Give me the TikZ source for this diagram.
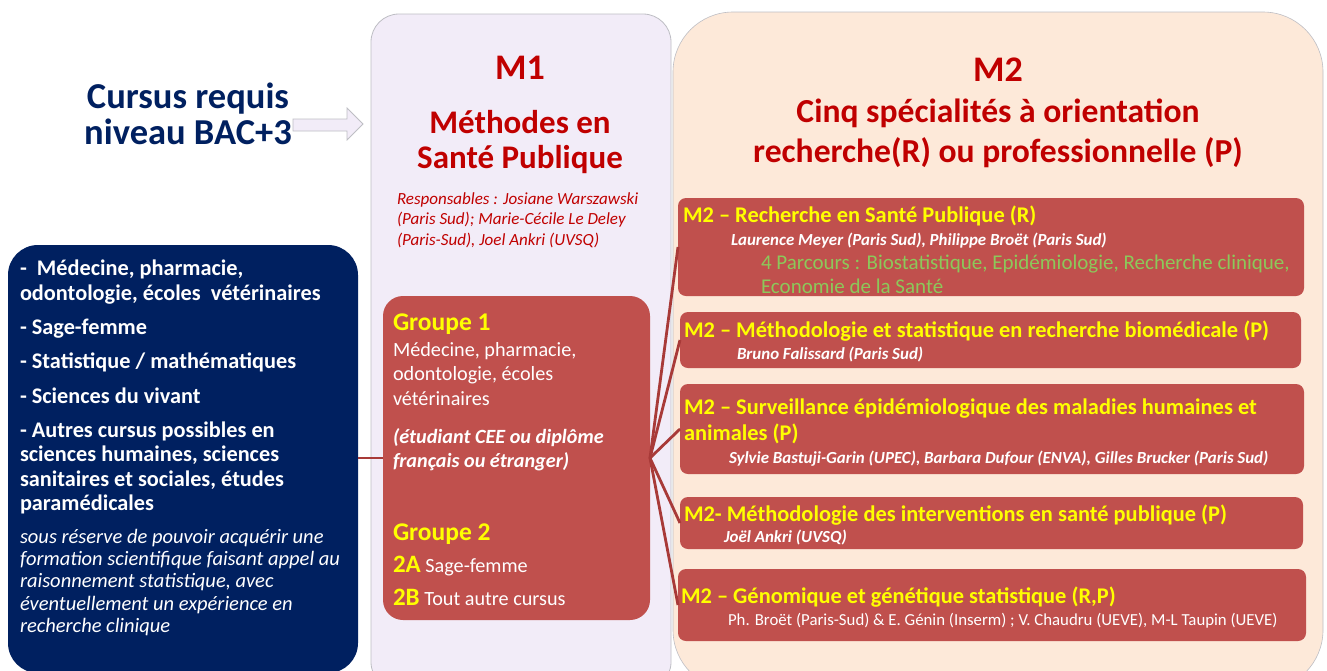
\documentclass[tikz,border=0pt]{standalone}
\usepackage{fontspec}
\setmainfont{Carlito}
\definecolor{navy}{RGB}{0,32,96}
\definecolor{boxred}{RGB}{192,80,77}
\definecolor{darkred}{RGB}{192,0,0}
\definecolor{lav}{RGB}{242,236,248}
\definecolor{peach}{RGB}{253,233,217}
\definecolor{conn}{RGB}{168,58,56}
\definecolor{grn}{RGB}{140,200,90}
\definecolor{yel}{RGB}{255,255,0}
\definecolor{edgegray}{RGB}{190,190,196}
\newcommand\myfs[2]{\fontsize{#1}{#2}\selectfont}
\tikzset{
  panel/.style={rectangle, inner sep=0pt, outer sep=0pt},
  redbox/.style={panel, fill=boxred, rounded corners=8pt},
  txt/.style={anchor=base west, inner sep=0pt, outer sep=0pt},
  ctr/.style={anchor=base, inner sep=0pt, outer sep=0pt},
  bignavy/.style={ctr, font=\myfs{36.5}{37}\bfseries, text=navy},
  bigred/.style={ctr, font=\myfs{33}{33}\bfseries, text=darkred},
  bigredb/.style={ctr, font=\myfs{33.6}{34}\bfseries, text=darkred},
  resp/.style={txt, font=\myfs{17}{20}\itshape, text=darkred},
  lbold/.style={txt, font=\myfs{22.3}{25}\bfseries, text=white},
  lital/.style={txt, font=\myfs{20.5}{22}\itshape, text=white},
  gtitle/.style={txt, font=\myfs{25.5}{26}\bfseries, text=yel},
  gtext/.style={txt, font=\myfs{20.2}{24}, text=white},
  gital/.style={txt, font=\myfs{20.2}{24}\bfseries\itshape, text=white},
  tl/.style={txt, font=\myfs{22.4}{24}\bfseries, text=yel},
  nm/.style={txt, font=\myfs{16.9}{18}\bfseries\itshape, text=white},
  nmr/.style={txt, font=\myfs{16.8}{18}, text=white},
  gr/.style={txt, font=\myfs{21}{22}, text=grn},
  conn/.style={draw=conn, line width=2.8pt},
}
\begin{document}
\begin{tikzpicture}[x=1pt,y=-1pt]
\useasboundingbox (0,0) rectangle (1327,670);
\clip (0,0) rectangle (1327,670);
\fill[white] (0,0) rectangle (1327,670);

% panels
\node (m1) [panel, fill=lav, draw=edgegray, line width=0.8pt, rounded corners=28pt,
  minimum width=300pt, minimum height=676pt] at (521,352) {};
\node (m2) [panel, fill=peach, draw=edgegray, line width=0.6pt, rounded corners=60pt,
  minimum width=650pt, minimum height=678pt] at (998,351) {};
\node (nav) [panel, fill=navy, rounded corners=30pt,
  minimum width=350pt, minimum height=428pt] at (183,459) {};
\node (grp) [panel, fill=boxred, rounded corners=20pt,
  minimum width=267pt, minimum height=324pt] at (516.5,458) {};

\node (b1) [redbox, minimum width=626pt, minimum height=98pt] at (991,247) {};
\node (b2) [redbox, minimum width=621pt, minimum height=56pt] at (990.5,340) {};
\node (b3) [redbox, minimum width=624pt, minimum height=90pt] at (992,429) {};
\node (b4) [redbox, minimum width=623pt, minimum height=52pt] at (991.5,523) {};
\node (b5) [redbox, minimum width=628pt, minimum height=72pt] at (992,605) {};

% arrow
\draw[fill=lav, draw=edgegray, line width=0.8pt]
  (293,119) -- (347,119) -- (347,108) -- (363,124) -- (347,140) -- (347,131) -- (293,131) -- cycle;

% connectors
\draw[conn] (nav.east |- grp.west) -- (grp.west);
\foreach \b in {b1,b2,b3,b4,b5} \draw[conn] (grp.east) -- (\b.west);

% left header
\node (cur1) [bignavy] at (188,108) {Cursus requis};
\node (cur2) [bignavy] at (188,144) {niveau BAC+3};

% M1 header
\node (m1t) [ctr, font=\myfs{36}{36}\bfseries, text=darkred] at (520,79) {M1};
\node (m1b) [bigred] at (520,133) {Méthodes en};
\node (m1c) [bigred] at (520,168) {Santé Publique};
\node (r1) [resp] at (397,204) {Responsables : Josiane Warszawski};
\node (r2) [resp] at (397,224.5) {(Paris Sud); Marie-Cécile Le Deley};
\node (r3) [resp] at (397,245) {(Paris-Sud), Joel Ankri (UVSQ)};

% M2 header
\node (m2t) [ctr, font=\myfs{36}{36}\bfseries, text=darkred] at (998,81) {M2};
\node (m2b) [bigredb] at (998,122) {Cinq spécialités à orientation};
\node (m2c) [bigredb] at (998,162) {recherche(R) ou professionnelle (P)};

% left box text
\node (la1) [lbold] at (20,275) {-~~Médecine, pharmacie,};
\node (la2) [lbold] at (20,300) {odontologie, écoles~~vétérinaires};
\node (la3) [lbold] at (20,334) {- Sage-femme};
\node (la4) [lbold] at (20,368) {- Statistique / mathématiques};
\node (la5) [lbold] at (20,403) {- Sciences du vivant};
\node (la6) [lbold] at (20,437) {- Autres cursus possibles en};
\node (la7) [lbold] at (20,461) {sciences humaines, sciences};
\node (la8) [lbold] at (20,486) {sanitaires et sociales, études};
\node (la9) [lbold] at (20,510) {paramédicales};
\node (li1) [lital] at (20,543) {sous réserve de pouvoir acquérir une};
\node (li2) [lital] at (20,565) {formation scientifique faisant appel au};
\node (li3) [lital] at (20,587) {raisonnement statistique, avec};
\node (li4) [lital] at (20,610) {éventuellement un expérience en};
\node (li5) [lital] at (20,632) {recherche clinique};

% group box text
\node (g1t) [gtitle] at (393,330) {Groupe 1};
\node (g1a) [gtext] at (393,356) {Médecine, pharmacie,};
\node (g1b) [gtext] at (393,380.5) {odontologie, écoles};
\node (g1c) [gtext] at (393,405) {vétérinaires};
\node (g1d) [gital] at (393,443) {(étudiant CEE ou diplôme};
\node (g1e) [gital] at (393,467) {français ou étranger)};
\node (g2t) [gtitle] at (393,540) {Groupe 2};
\node (g2a) [gtext] at (393,572) {{\myfs{25}{26}\bfseries\color{yel}2A} Sage-femme};
\node (g2b) [gtext] at (393,605) {{\myfs{25}{26}\bfseries\color{yel}2B} Tout autre cursus};

% M2 boxes text
\node (t1) [tl] at (683,222) {M2 – Recherche en Santé Publique (R)};
\node (n1) [nm] at (731,245) {Laurence Meyer (Paris Sud), Philippe Broët (Paris Sud)};
\node (p1) [gr] at (761,269.5) {4 Parcours : Biostatistique, Epidémiologie, Recherche clinique,};
\node (p2) [gr] at (761,293.5) {Economie de la Santé};

\node (t2) [tl] at (684,337) {M2 – Méthodologie et statistique en recherche biomédicale (P)};
\node (n2) [nm] at (737,359) {Bruno Falissard (Paris Sud)};

\node (t3) [tl] at (684,414) {M2 – Surveillance épidémiologique des maladies humaines et};
\node (t3b) [tl] at (684,440) {animales (P)};
\node (n3) [nm] at (729,463) {Sylvie Bastuji-Garin (UPEC), Barbara Dufour (ENVA), Gilles Brucker (Paris Sud)};

\node (t4) [tl] at (684,521) {M2- Méthodologie des interventions en santé publique (P)};
\node (n4) [nm] at (724,542) {Joël Ankri (UVSQ)};

\node (t5) [tl] at (681,603) {M2 – Génomique et génétique statistique (R,P)};
\node (n5) [nmr] at (728,625) {Ph. Broët (Paris-Sud) \& E. Génin (Inserm) ; V. Chaudru (UEVE), M-L Taupin (UEVE)};
\end{tikzpicture}
\end{document}
